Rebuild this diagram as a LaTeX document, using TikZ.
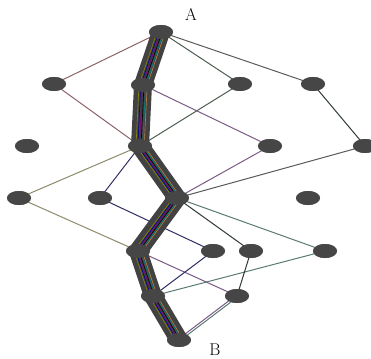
\documentclass[tikz,border=0pt]{standalone}
\usetikzlibrary{shapes.geometric}
\definecolor{nodegray}{HTML}{464646}
\definecolor{tubegray}{HTML}{424242}
\definecolor{epink}{HTML}{8A6468}
\definecolor{egreen}{HTML}{4E5E50}
\definecolor{egray}{HTML}{5A5A5A}
\definecolor{eolive}{HTML}{8E8A6A}
\definecolor{enavy}{HTML}{2E2E66}
\definecolor{epurple}{HTML}{7A5A86}
\definecolor{edark}{HTML}{2E3A30}
\definecolor{eteal}{HTML}{5A7A72}
\tikzset{
  vert/.style={ellipse, fill=nodegray, draw=none, minimum width=24pt, minimum height=14pt, inner sep=0pt},
  edge/.style={line width=1pt},
  tube/.style={line width=18pt, draw=tubegray, line join=round},
  strand/.style={line width=0.6pt, line join=round},
  lbl/.style={font=\fontsize{17}{19}\selectfont}
}
\begin{document}
\begin{tikzpicture}[x=1pt,y=-1pt]
\useasboundingbox (0,0) rectangle (371,358);
% vertices
\node[vert] (A) at (161,32) {};
\node[vert] (n1) at (54,84) {};
\node[vert] (n2) at (143,85) {};
\node[vert] (n3) at (240,84) {};
\node[vert] (n4) at (313,84) {};
\node[vert] (n5) at (27,146) {};
\node[vert] (n6) at (140,146) {};
\node[vert] (n7) at (270,146) {};
\node[vert] (n8) at (365,146) {};
\node[vert] (n9) at (19,198) {};
\node[vert] (n10) at (100,198) {};
\node[vert] (n11) at (177,198) {};
\node[vert] (n12) at (308,198) {};
\node[vert] (n13) at (138,251) {};
\node[vert] (n14) at (213,251) {};
\node[vert] (n15) at (251,251) {};
\node[vert] (n16) at (325,251) {};
\node[vert] (n17) at (153,296) {};
\node[vert] (n18) at (237,296) {};
\node[vert] (B) at (179,340) {};
\node[lbl] (la) at (191,14) {A};
\node[lbl] (lb) at (215,350) {B};
% thin edges
\draw[edge,epink] (A.center) -- (n1.center);
\draw[edge,egreen] (A.center) -- (n3.center);
\draw[edge,egray] (A.center) -- (n4.center);
\draw[edge,epink] (n1.center) -- (n6.center);
\draw[edge,epurple] (n2.center) -- (n7.center);
\draw[edge,egreen] (n3.center) -- (n6.center);
\draw[edge,edark] (n4.center) -- (n8.center);
\draw[edge,eolive] (n6.center) -- (n9.center);
\draw[edge,enavy] (n6.center) -- (n10.center);
\draw[edge,epurple] (n7.center) -- (n11.center);
\draw[edge,egray] (n8.center) -- (n11.center);
\draw[edge,eolive] (n9.center) -- (n13.center);
\draw[edge,enavy] (n10.center) -- (n14.center);
\draw[edge,edark] (n11.center) -- (n15.center);
\draw[edge,eteal] (n11.center) -- (n16.center);
\draw[edge,epurple] (n13.center) -- (n18.center);
\draw[edge,enavy] (n14.center) -- (n17.center);
\draw[edge,eteal] (n16.center) -- (n17.center);
\draw[edge,edark] (n15.center) -- (n18.center);
\draw[edge,epurple,transform canvas={xshift=-1.8pt}] (n18.center) -- (B.center);
\draw[edge,eteal,transform canvas={xshift=1.8pt}] (n18.center) -- (B.center);
% the bundled path from A to B
\draw[tube] (A.center) -- (n2.center) -- (n6.center) -- (n11.center) -- (n13.center) -- (n17.center) -- (B.center);
\foreach \dx/\c in {-4/olive, -2.2/blue!60!black, -0.6/violet, 1/black, 2.6/teal, 4.2/brown}{
  \draw[strand,\c,transform canvas={xshift=\dx pt}] (A.center) -- (n2.center) -- (n6.center) -- (n11.center) -- (n13.center) -- (n17.center) -- (B.center);
}
% redraw vertices on top
\foreach \v in {A,n1,n2,n3,n4,n5,n6,n7,n8,n9,n10,n11,n12,n13,n14,n15,n16,n17,n18,B}{
  \node[vert] at (\v) {};
}
\end{tikzpicture}
\end{document}
